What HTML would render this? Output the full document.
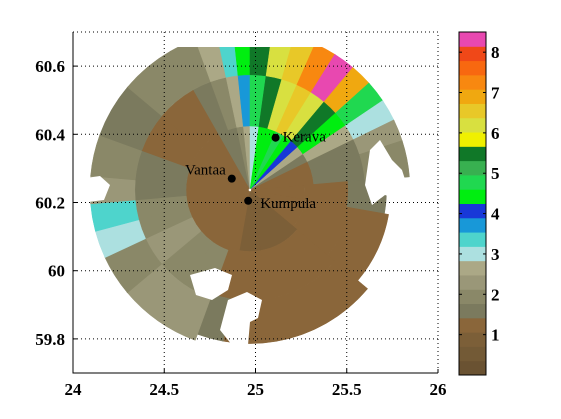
<!DOCTYPE html>
<html><head><meta charset="utf-8">
<style>
html,body{margin:0;padding:0;background:#fff;}
svg{display:block;}
text{font-family:"Liberation Serif",serif;}
</style></head>
<body>
<svg id="chart" width="561" height="419" viewBox="0 0 561 419" font-family="Liberation Serif, serif">
<defs>
<clipPath id="plotclip"><rect x="85" y="47" width="352" height="326"/></clipPath>
</defs>
<rect x="0" y="0" width="561" height="419" fill="#fff"/>
<g id="radar" clip-path="url(#plotclip)"></g>
<g id="holes"></g>
<g id="grid"></g>
<g id="axes"></g>
<g id="cities"></g>
<g id="cbar"></g>
</svg>
<script>
// ---- data ----
const xTicks = [24, 24.5, 25, 25.5, 26];
const yTicks = [59.8, 60, 60.2, 60.4, 60.6];
const cbTicks = [1, 2, 3, 4, 5, 6, 7, 8];
const cbColors = ["#6a5232","#735a36","#7c5f38","#8a663a","#7b7a5e","#8a8868","#9a9778","#aba886",
  "#ace0e0","#4ed4cc","#1898d8","#1838d8","#00ee10","#20d850","#38b050","#107828",
  "#f0f000","#d8e040","#e8c828","#f0a810","#f88810","#f86810","#f04818","#e848b0"];
const cityNames = ["Kerava", "Vantaa", "Kumpula"];
const cityLon = [25.11, 24.87, 24.96];
const cityLat = [60.39, 60.27, 60.205];
// radar sectors: azimuth start/end (deg from north), values in inner/mid/outer range bands
const secStart = [-30,-20,-12,-6,0,8,16,24,32,40,48,56,64,72,85,100,130,170,190,200,215,230,245,255,265,275,290,310];
const secEnd   = [-20,-12,-6,0,8,16,24,32,40,48,56,64,72,85,100,130,170,190,200,215,230,245,255,265,275,290,310,330];
const valInner = [1.6,1.6,2.0,2.5,3.0,4.5,4.6,4.8,4.6,4.2,2.6,1.6,1.2,1.2,1.2,1.2,1.0,1.0,1.2,1.2,1.2,1.2,1.2,1.2,1.2,1.2,1.2,1.2];
const valMid   = [1.6,2.0,2.6,3.6,4.8,5.4,6.2,6.6,6.2,5.6,4.6,2.6,1.6,1.6,1.2,1.2,1.2,1.2,1.2,1.8,2.0,2.2,2.0,1.8,1.6,1.6,1.2,1.2];
const valOuter = [1.8,2.6,3.4,4.4,5.4,6.1,6.4,7.2,8.3,7.0,4.8,3.1,2.4,2.0,1.6,1.2,1.2,1.2,1.6,2.4,2.2,2.0,3.0,3.3,2.2,1.8,1.6,1.8];
const maxRangeKm = [75,75,75,75,75,75,75,75,75,75,75,75,75,75,64,66,72,72,72,75,75,75,75,75,75,75,75,75];

// ---- scales ----
const X0=73, X1=438, Y0=32, Y1=373;
const xS = lon => X0 + (lon-24)/(26-24)*(X1-X0);
const yS = lat => Y0 + (60.7-lat)/(60.7-59.7)*(Y1-Y0);
const CB0=32, CB1=375, VMAX=8.5;
const cS = v => CB1 - v/VMAX*(CB1-CB0);
const colorOf = v => cbColors[Math.max(0,Math.min(cbColors.length-1,Math.floor(v/VMAX*cbColors.length)))];
const CX=250, CY=190, RPX=160/75; // px per km
const NS="http://www.w3.org/2000/svg";
function mk(tag, attrs, parent){const e=document.createElementNS(NS,tag);for(const k in attrs)e.setAttribute(k,attrs[k]);parent.appendChild(e);return e;}
function pt(a,r){const t=a*Math.PI/180;return [CX+r*Math.sin(t), CY-r*Math.cos(t)];}
function wedge(a0,a1,r0,r1){
  const p1=pt(a0,r0),p2=pt(a0,r1),p3=pt(a1,r1),p4=pt(a1,r0);
  return `M${p1} L${p2} A${r1},${r1} 0 0 1 ${p3} L${p4} A${r0},${r0} 0 0 0 ${p1} Z`;
}
const radar=document.getElementById('radar');
for(let i=0;i<secStart.length;i++){
  const R=maxRangeKm[i]*RPX;
  const bands=[[0.01,0.4,valInner[i]],[0.4,0.72,valMid[i]],[0.72,1,valOuter[i]]];
  bands.forEach((b,j)=>{
    const p=mk('path',{d:wedge(secStart[i],secEnd[i]+0.3,b[0]*R,b[1]*R),fill:colorOf(b[2]),stroke:colorOf(b[2]),'stroke-width':0.5},radar);
    
    
  });
}
// no-data areas (white)
const holes=document.getElementById('holes');
[["M370,150 L380,140 L392,160 L402,170 L410,195 L400,200 L385,195 L372,205 L365,185 Z","hole-east"],
 ["M228,300 L247,292 L262,300 L258,318 L250,322 L248,345 L232,345 L220,330 Z","hole-south"],
 ["M190,275 L215,268 L232,275 L228,290 L212,300 L196,295 Z","hole-southwest"],
 ["M86,178 L100,176 L110,185 L104,200 L88,202 Z","hole-west"]].forEach(h=>{
  const p=mk('path',{d:h[0],fill:'#fff'},holes);
  
  
});
// grid
const grid=document.getElementById('grid');
xTicks.slice(1,-1).forEach(t=>{const l=mk('line',{x1:xS(t),x2:xS(t),y1:Y0,y2:Y1,stroke:'#000','stroke-width':1,'stroke-dasharray':'1,3'},grid);
  });
yTicks.forEach(t=>{const l=mk('line',{x1:X0,x2:X1,y1:yS(t),y2:yS(t),stroke:'#000','stroke-width':1,'stroke-dasharray':'1,3'},grid);
  });
// axes
const axes=document.getElementById('axes');
const fr=mk('path',{d:`M${X0},${Y0} V${Y1} H${X1}`,fill:'none',stroke:'#000','stroke-width':1},axes);

const tr=mk('path',{d:`M${X0},${Y0} H${X1} V${Y1}`,fill:'none',stroke:'#000','stroke-width':1,'stroke-dasharray':'1,3'},axes);

xTicks.forEach(t=>{
  const tk=mk('line',{x1:xS(t),x2:xS(t),y1:Y1,y2:Y1-4,stroke:'#000'},axes);
  
  const tx=mk('text',{x:xS(t),y:Y1+22,'text-anchor':'middle','font-size':17,'font-weight':'bold','font-family':'Liberation Serif, serif'},axes);
  tx.textContent=String(t);
  
});
yTicks.forEach(t=>{
  const tk=mk('line',{x1:X0,x2:X0+4,y1:yS(t),y2:yS(t),stroke:'#000'},axes);
  
  const tx=mk('text',{x:X0-8,y:yS(t)+6,'text-anchor':'end','font-size':17,'font-weight':'bold','font-family':'Liberation Serif, serif'},axes);
  tx.textContent=t===60?'60':t.toFixed(1);
  
});
// cities
const cities=document.getElementById('cities');
const labOff=[[7,4,'start'],[-6,-4,'end'],[12,7,'start']];
cityNames.forEach((n,i)=>{
  const cx=xS(cityLon[i]),cy=yS(cityLat[i]);
  const c=mk('circle',{cx:cx,cy:cy,r:4,fill:'#000'},cities);
  
  const t=mk('text',{x:cx+labOff[i][0],y:cy+labOff[i][1],'text-anchor':labOff[i][2],'font-size':15,'font-family':'Liberation Serif, serif'},cities);
  t.textContent=n;
  
});
// colorbar
const cbar=document.getElementById('cbar');
cbColors.forEach((c,i)=>{
  const v0=i*VMAX/cbColors.length,v1=(i+1)*VMAX/cbColors.length;
  const r=mk('rect',{x:459,y:cS(v1),width:27,height:cS(v0)-cS(v1)+0.5,fill:c},cbar);
  
});
const cbf=mk('rect',{x:459,y:CB0,width:27,height:CB1-CB0,fill:'none',stroke:'#000'},cbar);

cbTicks.forEach(t=>{
  const a=mk('line',{x1:459,x2:462,y1:cS(t),y2:cS(t),stroke:'#000'},cbar);
  
  const b=mk('line',{x1:483,x2:486,y1:cS(t),y2:cS(t),stroke:'#000'},cbar);
  
  const tx=mk('text',{x:491,y:cS(t)+6,'font-size':17,'font-weight':'bold','font-family':'Liberation Serif, serif'},cbar);
  tx.textContent=String(t);
  
});
</script>
</body></html>
